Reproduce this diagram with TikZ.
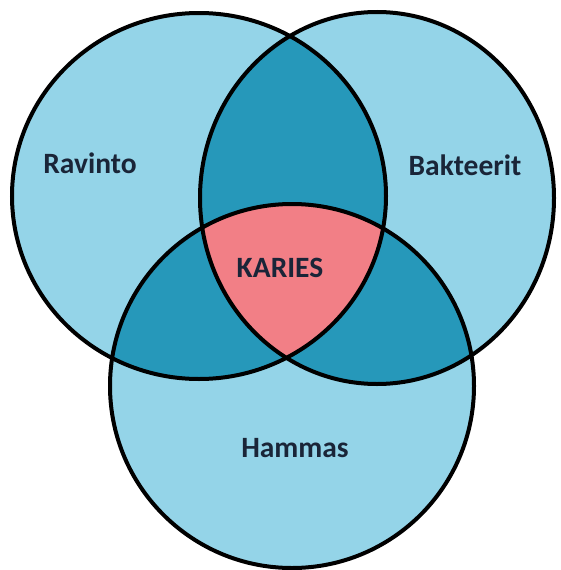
\documentclass[tikz,border=0pt]{standalone}
\usepackage{fontspec}
\setmainfont{Carlito}
\definecolor{lightc}{HTML}{94D4E8}
\definecolor{darkc}{HTML}{2698BA}
\definecolor{pinkc}{HTML}{F27F86}
\definecolor{txtc}{HTML}{1A2538}
\tikzset{
  lbl/.style={font=\fontsize{29.5}{32}\selectfont\bfseries, text=txtc, inner sep=0pt},
  outline/.style={draw=black, line width=4pt}
}
\begin{document}
\begin{tikzpicture}[x=1pt,y=-1pt]
\useasboundingbox (0,0) rectangle (560,570);
\def\cL{(199,196) ellipse [x radius=187pt, y radius=183pt]}
\def\cR{(377,198) ellipse [x radius=177pt, y radius=186pt]}
\def\cB{(292,386) ellipse [x radius=182pt, y radius=182pt]}
% base fills
\fill[lightc] \cL;
\fill[lightc] \cR;
\fill[lightc] \cB;
% pairwise intersections
\begin{scope}
  \clip \cL;
  \fill[darkc] \cR;
  \fill[darkc] \cB;
\end{scope}
\begin{scope}
  \clip \cR;
  \fill[darkc] \cB;
\end{scope}
% triple intersection
\begin{scope}
  \clip \cL;
  \clip \cR;
  \fill[pinkc] \cB;
\end{scope}
% outlines
\draw[outline] \cL;
\draw[outline] \cR;
\draw[outline] \cB;
% labels
\node[lbl] (ravinto) at (90,163) {Ravinto};
\node[lbl] (bakteerit) at (465,165) {Bakteerit};
\node[lbl] (karies) at (280,268) {KARIES};
\node[lbl] (hammas) at (295,448) {Hammas};
\end{tikzpicture}
\end{document}
